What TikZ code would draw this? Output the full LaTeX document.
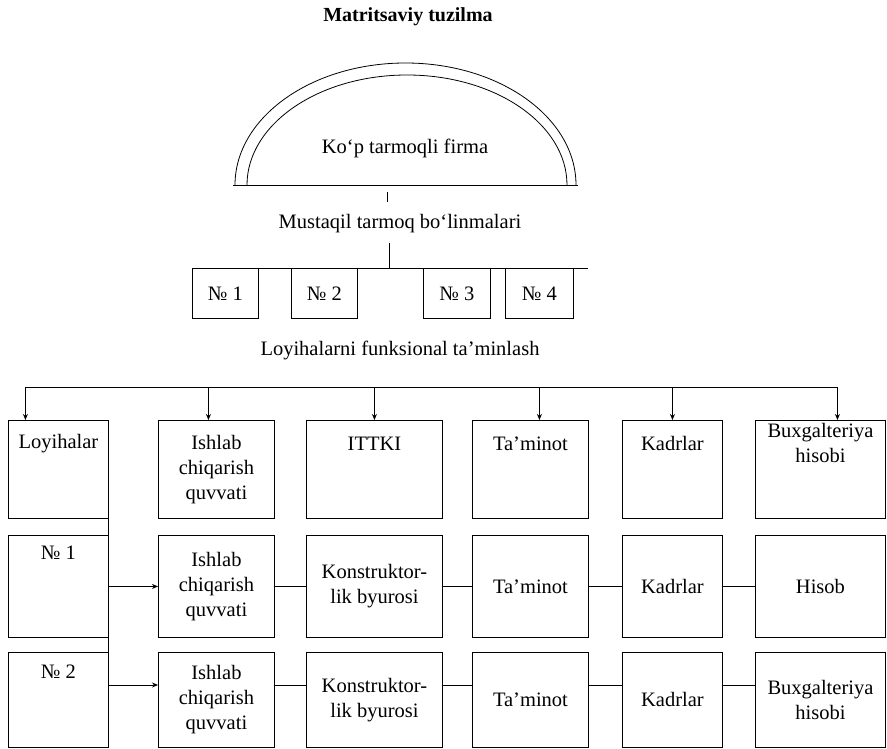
\documentclass[tikz,border=0pt]{standalone}
\usepackage{fontspec}
\setmainfont{Liberation Serif}
\usetikzlibrary{arrows.meta}

\begin{document}
\begin{tikzpicture}[x=1pt, y=-1pt,
  every node/.style={font=\fontsize{20.5}{25}\selectfont},
  box/.style={draw, line width=0.9pt, inner sep=0pt, align=center, anchor=north west},
  link/.style={line width=0.9pt},
  arr/.style={line width=0.9pt, -{Stealth[length=6pt, width=5pt]}}]
\useasboundingbox (0,0) rectangle (887,749);
\node[font=\fontsize{20}{24}\selectfont\bfseries] (title) at (408,17) {Matritsaviy tuzilma};
\draw[line width=0.8pt] (576,185) arc[start angle=0, end angle=-180, x radius=170.5, y radius=122];
\draw[line width=0.8pt] (567,185) arc[start angle=0, end angle=-180, x radius=160, y radius=110];
\coordinate (bl) at (233,185);
\coordinate (br) at (578,185);
\draw[link] (bl) -- (br);
\node (firm) at (405,148) {Ko‘p tarmoqli firma};
\coordinate (tk1) at (387,192);
\coordinate (tk1e) at (387,202);
\draw[line width=0.7pt] (tk1) -- (tk1e);
\node (must) at (400,224) {Mustaqil tarmoq bo‘linmalari};
\coordinate (nl) at (192,268);
\coordinate (nr) at (588,268);
\coordinate (tk2) at (389,243);
\draw[line width=0.7pt] (tk2) -- (tk2 |- nl);
\node[box, minimum width=66pt, minimum height=50pt] (n1) at (192,268) {№ 1};
\node[box, minimum width=66pt, minimum height=50pt] (n2) at (291,268) {№ 2};
\node[box, minimum width=67pt, minimum height=50pt] (n3) at (423,268) {№ 3};
\node[box, minimum width=68pt, minimum height=50pt] (n4) at (505,268) {№ 4};
\draw[link] (nl) -- (nr);
\node (func) at (400,350) {Loyihalarni funksional ta’minlash};
\node[box, minimum width=100pt, text height=28pt, text depth=70pt] (loy) at (8,420) {Loyihalar};
\node[box, minimum width=116pt, minimum height=98pt] (r1c2) at (158,420) {Ishlab\\chiqarish\\quvvati};
\node[box, minimum width=136pt, text height=30pt, text depth=68pt] (r1c3) at (306,420) {ITTKI};
\node[box, minimum width=116pt, text height=30pt, text depth=68pt] (r1c4) at (472,420) {Ta’minot};
\node[box, minimum width=100pt, text height=30pt, text depth=68pt] (r1c5) at (622,420) {Kadrlar};
\node[box, minimum width=130pt, text height=42pt, text depth=56pt] (r1c6) at (755,420) {Buxgalteriya\\hisobi};
\node[box, minimum width=100pt, text height=24pt, text depth=78pt] (r2c1) at (8,535) {№ 1};
\node[box, minimum width=116pt, minimum height=102pt] (r2c2) at (158,535) {Ishlab\\chiqarish\\quvvati};
\node[box, minimum width=136pt, minimum height=102pt] (r2c3) at (306,535) {Konstruktor-\\lik byurosi};
\node[box, minimum width=116pt, minimum height=102pt] (r2c4) at (472,535) {Ta’minot};
\node[box, minimum width=100pt, minimum height=102pt] (r2c5) at (622,535) {Kadrlar};
\node[box, minimum width=130pt, minimum height=102pt] (r2c6) at (755,535) {Hisob};
\node[box, minimum width=100pt, text height=26pt, text depth=69pt] (r3c1) at (8,652) {№ 2};
\node[box, minimum width=116pt, minimum height=95pt] (r3c2) at (158,652) {Ishlab\\chiqarish\\quvvati};
\node[box, minimum width=136pt, minimum height=95pt] (r3c3) at (306,652) {Konstruktor-\\lik byurosi};
\node[box, minimum width=116pt, minimum height=95pt] (r3c4) at (472,652) {Ta’minot};
\node[box, minimum width=100pt, minimum height=95pt] (r3c5) at (622,652) {Kadrlar};
\node[box, minimum width=130pt, minimum height=95pt] (r3c6) at (755,652) {Buxgalteriya\\hisobi};
\coordinate (bus) at (0,387);
\foreach \n/\d in {loy/-33, r1c2/-8, r1c3/0, r1c4/9, r1c5/0, r1c6/17}{
  \path ([xshift=\d pt]\n.north) coordinate (d\n);
  \draw[arr] (bus -| d\n) -- (d\n);
}
\draw[link] (bus -| dloy) -- (bus -| dr1c6);
\coordinate (r3y) at (0,685);
\draw[link] (loy.south east) -- (loy.east |- r3y);
\draw[arr] (loy.east |- r2c2.west) -- (r2c2.west);
\draw[arr] (loy.east |- r3y) -- (r3c2.west |- r3y);
\draw[link] (r2c2) -- (r2c3);
\draw[link] (r2c3) -- (r2c4);
\draw[link] (r2c4) -- (r2c5);
\draw[link] (r2c5) -- (r2c6);
\draw[link] (r3c2.east |- r3y) -- (r3c3.west |- r3y);
\draw[link] (r3c3.east |- r3y) -- (r3c4.west |- r3y);
\draw[link] (r3c4.east |- r3y) -- (r3c5.west |- r3y);
\draw[link] (r3c5.east |- r3y) -- (r3c6.west |- r3y);
\end{tikzpicture}
\end{document}
